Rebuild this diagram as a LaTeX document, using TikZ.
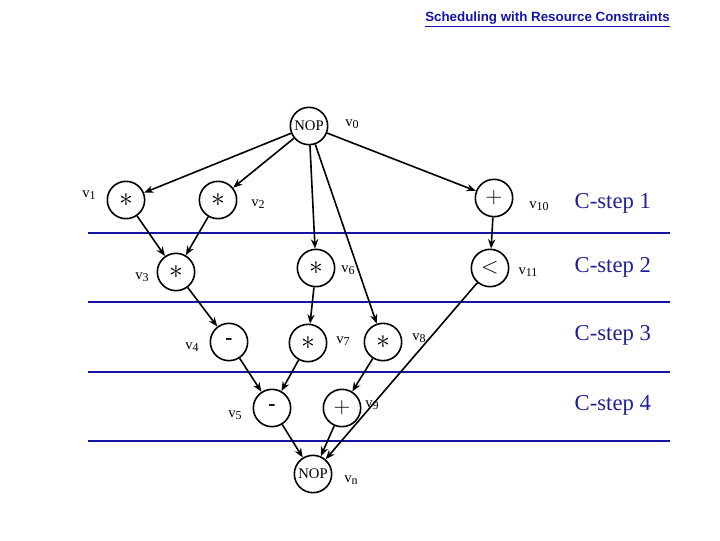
\documentclass[tikz,border=0pt]{standalone}
\usepackage{fontspec}
\setmainfont{Liberation Serif}
\newfontfamily\titlefont{Liberation Sans}
\usetikzlibrary{arrows.meta}
\definecolor{lineblue}{RGB}{20,20,170}
\definecolor{stepblue}{RGB}{30,30,150}
\newcommand{\vlab}[1]{v\raisebox{-0.35ex}{\fontsize{9}{9}\selectfont #1}}
\begin{document}
\begin{tikzpicture}[x=0.75pt,y=-0.75pt,
  op/.style={draw,circle,line width=1.2pt,minimum size=28pt,inner sep=0pt,font=\fontsize{16}{16}\selectfont},
  star/.style={op,font=\fontsize{22}{22}\selectfont},
  nop/.style={op,font=\fontsize{11}{11}\selectfont},
  vl/.style={font=\fontsize{11}{11}\selectfont,inner sep=0pt},
  arr/.style={line width=1.2pt,-{Stealth[length=7pt,width=5.5pt]}},
  cline/.style={lineblue,line width=1.4pt},
  cstep/.style={stepblue,font=\fontsize{17}{17}\selectfont,anchor=west}]
\useasboundingbox (0,0) rectangle (720,540);
\node[anchor=east,inner sep=0pt] (title) at (670,19) {\titlefont\bfseries\fontsize{10}{10}\selectfont\color{lineblue}\underline{Scheduling with Resource Constraints}};
% C-step lines
\coordinate (l1a) at (88,233); \coordinate (l1b) at (670,233);
\coordinate (l2a) at (88,302); \coordinate (l2b) at (670,302);
\coordinate (l3a) at (88,372); \coordinate (l3b) at (670,372);
\coordinate (l4a) at (88,441); \coordinate (l4b) at (670,441);
\draw[cline] (l1a) -- (l1b);
\draw[cline] (l2a) -- (l2b);
\draw[cline] (l3a) -- (l3b);
\draw[cline] (l4a) -- (l4b);
\node[cstep] (c1) at (570,203) {C-step 1};
\node[cstep] (c2) at (570,267) {C-step 2};
\node[cstep] (c3) at (570,335) {C-step 3};
\node[cstep] (c4) at (570,405) {C-step 4};
% nodes
\node[nop] (v0) at (309,126) {NOP};
\node[star] (v1) at (126,200) {$\ast$};
\node[star] (v2) at (218,200) {$\ast$};
\node[op] (v10) at (494,198) {$+$};
\node[star] (v3) at (176,272) {$\ast$};
\node[star] (v6) at (316,268) {$\ast$};
\node[op] (v11) at (490,268) {$<$};
\node[op] (v4) at (229,342) {\textbf{-}};
\node[star] (v7) at (308,343) {$\ast$};
\node[star] (v8) at (383,342) {$\ast$};
\node[op] (v5) at (272,408) {\textbf{-}};
\node[op] (v9) at (342,408) {$+$};
\node[nop] (vn) at (313,474) {NOP};
% labels
\node[vl] (t0) at (352,124) {\vlab{0}};
\node[vl] (t1) at (89,195) {\vlab{1}};
\node[vl] (t2) at (258,204) {\vlab{2}};
\node[vl] (t10) at (539,206) {\vlab{10}};
\node[vl] (t11) at (528,272) {\vlab{11}};
\node[vl] (t3) at (142,277) {\vlab{3}};
\node[vl] (t6) at (348,270) {\vlab{6}};
\node[vl] (t4) at (192,347) {\vlab{4}};
\node[vl] (t7) at (343,341) {\vlab{7}};
\node[vl] (t8) at (419,338) {\vlab{8}};
\node[vl] (t5) at (235,415) {\vlab{5}};
\node[vl] (t9) at (372,405) {\vlab{9}};
\node[vl] (tn) at (351,480) {\vlab{n}};
% edges
\draw[arr] (v0) -- (v1);
\draw[arr] (v0) -- (v2);
\draw[arr] (v0) -- (v6);
\draw[arr] (v0) -- (v8);
\draw[arr] (v0) -- (v10);
\draw[arr] (v1) -- (v3);
\draw[arr] (v2) -- (v3);
\draw[arr] (v3) -- (v4);
\draw[arr] (v6) -- (v7);
\draw[arr] (v4) -- (v5);
\draw[arr] (v7) -- (v5);
\draw[arr] (v8) -- (v9);
\draw[arr] (v10) -- (v11);
\draw[arr] (v5) -- (vn);
\draw[arr] (v9) -- (vn);
\draw[arr] (v11) -- (vn);
\end{tikzpicture}
\end{document}
